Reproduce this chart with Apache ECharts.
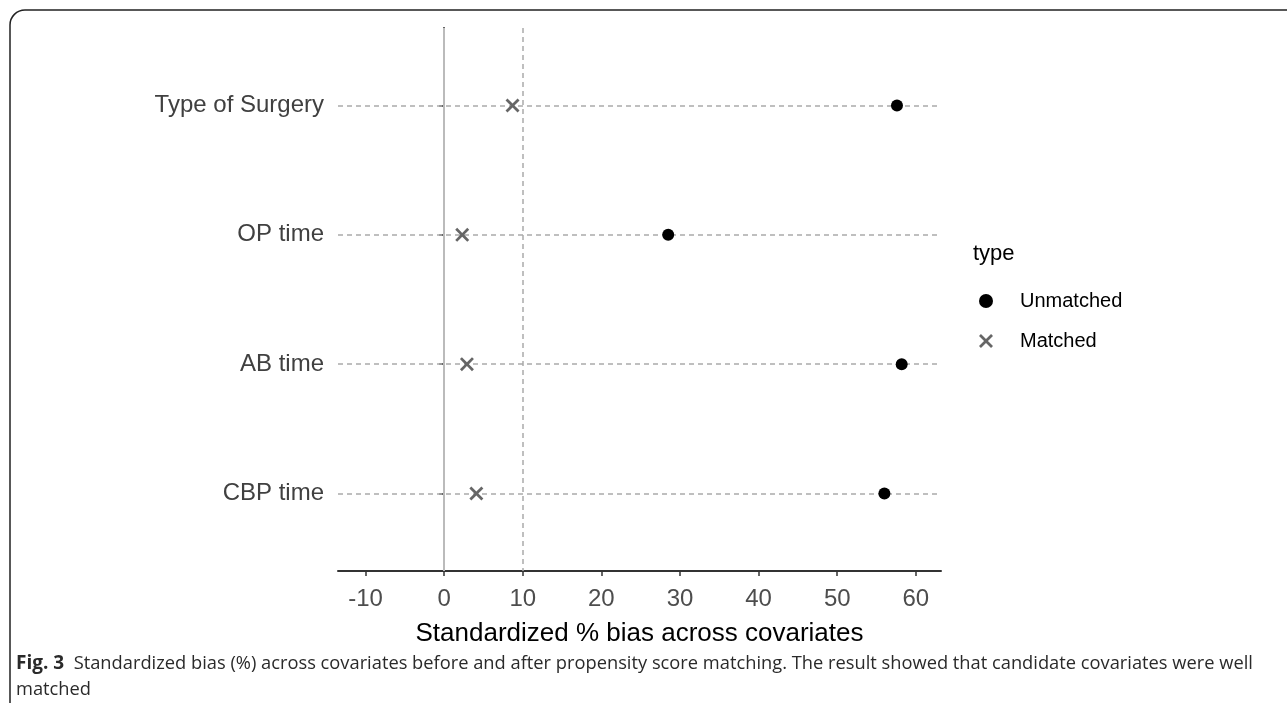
<!DOCTYPE html>
<html>
<head>
<meta charset="utf-8">
<script src="https://cdn.jsdelivr.net/npm/echarts@6/dist/echarts.min.js"></script>
<style>
  html, body { margin: 0; padding: 0; background: #fff; }
  #chart { width: 1287px; height: 703px; }
</style>
</head>
<body>
<div id="chart"></div>
<script>
// covariates, top to bottom
var covariates = ['Type of Surgery', 'OP time', 'AB time', 'CBP time']
// standardized % bias
var unmatched = [57.6, 28.5, 58.2, 56.0]
var matched = [8.7, 2.3, 2.9, 4.1]
var xTicks = [-10, 0, 10, 20, 30, 40, 50, 60]
var refLines = [0, 10]

var crossIcon = 'path://M0,1.4L1.4,0L5,3.6L8.6,0L10,1.4L6.4,5L10,8.6L8.6,10L5,6.4L1.4,10L0,8.6L3.6,5Z'
var rowPos = covariates.map(function (c, i) { return i + 1 })

var chart = echarts.init(document.getElementById('chart'))

var option = {
  animation: false,
  grid: { left: 338, right: 346, top: 28, bottom: 132 },
  xAxis: {
    type: 'value',
    min: -13.5,
    max: 63.2,
    name: 'Standardized % bias across covariates',
    nameLocation: 'middle',
    nameGap: 50,
    nameTextStyle: { color: '#000', fontSize: 26, fontFamily: 'Liberation Sans' },
    axisLine: { lineStyle: { color: '#333', width: 2 } },
    axisTick: { show: true, length: 5, customValues: xTicks, lineStyle: { color: '#333', width: 1.5 } },
    axisLabel: {
      customValues: xTicks,
      color: '#4d4d4d',
      fontSize: 24,
      fontFamily: 'Liberation Sans',
      margin: 16
    },
    splitLine: { show: false }
  },
  yAxis: {
    type: 'value',
    inverse: true,
    min: 0.4,
    max: 4.6,
    axisLine: { show: true, lineStyle: { color: '#333', width: 2 } },
    axisTick: { show: true, length: 5, customValues: rowPos, lineStyle: { color: '#333', width: 1.5 } },
    axisLabel: {
      customValues: rowPos,
      color: '#404040',
      fontSize: 24,
      fontFamily: 'Liberation Sans',
      margin: 14,
      formatter: function (v) { return covariates[Math.round(v) - 1] }
    },
    splitLine: { show: false }
  },
  legend: {
    orient: 'vertical',
    left: 974,
    top: 286,
    itemWidth: 14,
    itemHeight: 14,
    itemGap: 20,
    textStyle: { color: '#000', fontSize: 20, fontFamily: 'Liberation Sans', padding: [0, 0, 0, 22] },
    data: [
      { name: 'Unmatched', icon: 'circle', itemStyle: { color: '#000', opacity: 1 } },
      { name: 'Matched', icon: crossIcon, itemStyle: { color: '#666', opacity: 1 } }
    ]
  },
  graphic: [
    {
      type: 'rect',
      shape: { x: 10, y: 10, width: 1400, height: 800, r: 15 },
      style: { fill: 'none', stroke: '#222', lineWidth: 1.5 },
      silent: true
    },
    {
      type: 'text',
      left: 973,
      top: 243,
      style: { text: 'type', fontSize: 22, fontFamily: 'Liberation Sans', fill: '#000' }
    },
    {
      type: 'text',
      left: 16,
      top: 651,
      style: {
        text: '{b|Fig. 3}  Standardized bias (%) across covariates before and after propensity score matching. The result showed that candidate covariates were well\nmatched',
        fontSize: 18.3,
        fontFamily: 'Open Sans',
        fill: '#2a2a2a',
        lineHeight: 26,
        rich: { b: { fontWeight: 'bold', fontSize: 19, fontFamily: 'Open Sans', fill: '#2a2a2a' } }
      }
    }
  ],
  series: [
    {
      name: 'ref',
      type: 'scatter',
      data: [],
      z: 1,
      silent: true,
      markLine: {
        z: 1,
        symbol: 'none',
        silent: true,
        label: { show: false },
        data: rowPos.map(function (p) {
          return { yAxis: p, lineStyle: { type: [5, 4], color: '#aaaaaa', width: 1.5 } }
        }).concat([
          { xAxis: refLines[0], lineStyle: { type: 'solid', color: '#bbbbbb', width: 2 } },
          { xAxis: refLines[1], lineStyle: { type: [5, 4], color: '#aaaaaa', width: 1.5 } }
        ])
      }
    },
    {
      name: 'Unmatched',
      type: 'scatter',
      z: 6,
      symbol: 'circle',
      symbolSize: 12,
      itemStyle: { color: '#000', opacity: 1 },
      data: unmatched.map(function (v, i) { return [v, rowPos[i]] })
    },
    {
      name: 'Matched',
      type: 'scatter',
      z: 6,
      symbol: crossIcon,
      symbolSize: 14,
      itemStyle: { color: '#666', opacity: 1 },
      data: matched.map(function (v, i) { return [v, rowPos[i]] })
    }
  ]
}

chart.setOption(option)
window.addEventListener('resize', function () {
  chart.resize()
})
</script>
</body>
</html>
